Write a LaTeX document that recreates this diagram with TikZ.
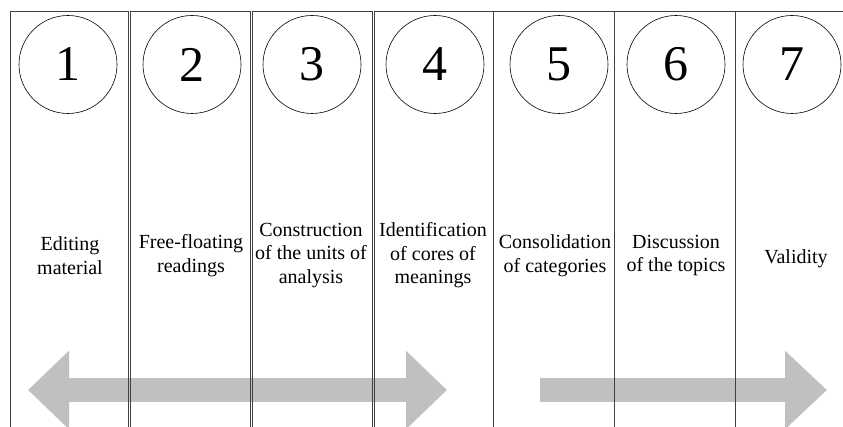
\documentclass[tikz,border=0pt]{standalone}
\usepackage{fontspec}
\setmainfont{Liberation Serif}
\usetikzlibrary{arrows.meta, positioning}
\definecolor{arrowgray}{HTML}{C0C0C0}

\begin{document}
\begin{tikzpicture}[
  x=1pt, y=-1pt,
  column/.style = {draw=black!75, line width=0.8pt, anchor=north west, minimum height=440pt, inner sep=0pt},
  stepnum/.style = {draw, circle, line width=0.6pt, minimum size=98pt, inner sep=0pt, font=\fontsize{50}{50}\selectfont},
  steptext/.style = {align=center, font=\fontsize{20}{23.5}\selectfont},
  bigarrow/.style = {line width=24pt, draw=arrowgray}
]

  \useasboundingbox (0,0) rectangle (843,427);
  \clip (0,0) rectangle (843,427);

  % Arrows
  \coordinate (back_l) at (28,390);
  \coordinate (back_r) at (447,390);
  \coordinate (fwd_l) at (540,390);
  \coordinate (fwd_r) at (827,390);
  \draw[bigarrow, {Triangle[length=41pt, width=76pt]}-{Triangle[length=41pt, width=76pt]}] (back_l) -- (back_r);
  \draw[bigarrow, -{Triangle[length=42pt, width=76pt]}] (fwd_l) -- (fwd_r);

  % Columns
  \node[column, minimum width=118pt] (col1) at (10,11.5) {};
  \node[column, minimum width=120pt] (col2) at (130,11.5) {};
  \node[column, minimum width=120pt] (col3) at (252,11.5) {};
  \node[column, minimum width=119.5pt] (col4) at (373.5,11.5) {};
  \node[column, minimum width=121pt] (col5) at (493,11.5) {};
  \node[column, minimum width=121pt] (col6) at (614,11.5) {};
  \node[column, minimum width=120pt] (col7) at (735,11.5) {};

  % Step numbers
  \node[stepnum] (n1) at (68,64.5) {1};
  \node[stepnum] (n2) at (192,64.5) {2};
  \node[stepnum] (n3) at (312,64.5) {3};
  \node[stepnum] (n4) at (435,64.5) {4};
  \node[stepnum] (n5) at (559,64.5) {5};
  \node[stepnum] (n6) at (676,64.5) {6};
  \node[stepnum] (n7) at (792,64.5) {7};

  % Step names
  \node[steptext] (t1) at (70,255.5) {Editing\\material};
  \node[steptext] (t2) at (191,255.5) {Free-floating\\readings};
  \node[steptext] (t3) at (311,255.5) {Construction\\of the units of\\analysis};
  \node[steptext] (t4) at (433,255.5) {Identification\\of cores of\\meanings};
  \node[steptext] (t5) at (555,255.5) {Consolidation\\of categories};
  \node[steptext] (t6) at (676,255.5) {Discussion\\of the topics};
  \node[steptext] (t7) at (796,259) {Validity};

\end{tikzpicture}
\end{document}
